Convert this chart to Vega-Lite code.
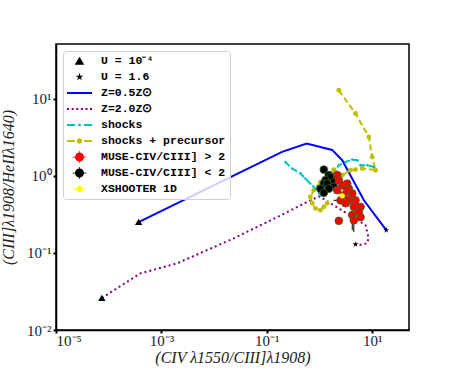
{
  "$schema": "https://vega.github.io/schema/vega-lite/v6.json",
  "width": 353,
  "height": 286,
  "autosize": {"type": "none"},
  "padding": {"left": 56, "top": 44, "right": 45, "bottom": 41},
  "datasets": {
    "lines": [
      {"series": "Z=0.5Z⊙", "i": 0, "x": 0.00037, "y": 0.25},
      {"series": "Z=0.5Z⊙", "i": 1, "x": 0.195, "y": 2.04},
      {"series": "Z=0.5Z⊙", "i": 2, "x": 0.57, "y": 2.61},
      {"series": "Z=0.5Z⊙", "i": 3, "x": 1.74, "y": 2.16},
      {"series": "Z=0.5Z⊙", "i": 4, "x": 2.7, "y": 1.59},
      {"series": "Z=0.5Z⊙", "i": 5, "x": 6.97, "y": 0.48},
      {"series": "Z=0.5Z⊙", "i": 6, "x": 18.5, "y": 0.197},
      {"series": "Z=2.0Z⊙", "i": 0, "x": 0.000074, "y": 0.026},
      {"series": "Z=2.0Z⊙", "i": 1, "x": 0.000395, "y": 0.054},
      {"series": "Z=2.0Z⊙", "i": 2, "x": 0.00197, "y": 0.073},
      {"series": "Z=2.0Z⊙", "i": 3, "x": 0.0235, "y": 0.154},
      {"series": "Z=2.0Z⊙", "i": 4, "x": 0.21, "y": 0.32},
      {"series": "Z=2.0Z⊙", "i": 5, "x": 0.67, "y": 0.48},
      {"series": "Z=2.0Z⊙", "i": 6, "x": 1.0, "y": 0.54},
      {"series": "Z=2.0Z⊙", "i": 7, "x": 7.5, "y": 0.229},
      {"series": "Z=2.0Z⊙", "i": 8, "x": 8.55, "y": 0.155},
      {"series": "Z=2.0Z⊙", "i": 9, "x": 8.03, "y": 0.133},
      {"series": "Z=2.0Z⊙", "i": 10, "x": 5.58, "y": 0.126},
      {"series": "Z=2.0Z⊙", "i": 11, "x": 4.83, "y": 0.129},
      {"series": "shocks", "i": 0, "x": 0.226, "y": 1.51},
      {"series": "shocks", "i": 1, "x": 0.303, "y": 1.24},
      {"series": "shocks", "i": 2, "x": 0.435, "y": 1.07},
      {"series": "shocks", "i": 3, "x": 0.54, "y": 0.92},
      {"series": "shocks", "i": 4, "x": 0.67, "y": 0.79},
      {"series": "shocks", "i": 5, "x": 0.84, "y": 0.68},
      {"series": "shocks", "i": 6, "x": 1.04, "y": 0.56},
      {"series": "shocks", "i": 7, "x": 1.7, "y": 1.0},
      {"series": "shocks", "i": 8, "x": 2.33, "y": 1.37},
      {"series": "shocks", "i": 9, "x": 3.12, "y": 1.51},
      {"series": "shocks", "i": 10, "x": 4.19, "y": 1.62},
      {"series": "shocks", "i": 11, "x": 5.21, "y": 1.59},
      {"series": "shocks", "i": 12, "x": 6.02, "y": 1.37},
      {"series": "shocks", "i": 13, "x": 8.07, "y": 1.37},
      {"series": "shocks", "i": 14, "x": 10.8, "y": 1.3},
      {"series": "shocks + precursor", "i": 0, "x": 2.33, "y": 12.8},
      {"series": "shocks + precursor", "i": 1, "x": 4.83, "y": 6.4},
      {"series": "shocks + precursor", "i": 2, "x": 8.65, "y": 3.18},
      {"series": "shocks + precursor", "i": 3, "x": 10.0, "y": 1.75},
      {"series": "shocks + precursor", "i": 4, "x": 11.6, "y": 1.18},
      {"series": "shocks + precursor", "i": 5, "x": 6.49, "y": 1.24},
      {"series": "shocks + precursor", "i": 6, "x": 4.83, "y": 1.2},
      {"series": "shocks + precursor", "i": 7, "x": 3.88, "y": 1.18},
      {"series": "shocks + precursor", "i": 8, "x": 2.7, "y": 1.02},
      {"series": "shocks + precursor", "i": 9, "x": 1.87, "y": 1.2},
      {"series": "shocks + precursor", "i": 10, "x": 1.4, "y": 1.02},
      {"series": "shocks + precursor", "i": 11, "x": 1.04, "y": 0.83},
      {"series": "shocks + precursor", "i": 12, "x": 0.78, "y": 0.65},
      {"series": "shocks + precursor", "i": 13, "x": 0.67, "y": 0.53},
      {"series": "shocks + precursor", "i": 14, "x": 0.73, "y": 0.44},
      {"series": "shocks + precursor", "i": 15, "x": 0.84, "y": 0.377},
      {"series": "shocks + precursor", "i": 16, "x": 1.04, "y": 0.358},
      {"series": "shocks + precursor", "i": 17, "x": 1.21, "y": 0.395},
      {"series": "shocks + precursor", "i": 18, "x": 1.4, "y": 0.44}
    ],
    "ends": [
      {"series": "U = 10⁻⁴", "x": 0.00037, "y": 0.25},
      {"series": "U = 10⁻⁴", "x": 0.000074, "y": 0.026},
      {"series": "U = 1.6", "x": 18.5, "y": 0.197},
      {"series": "U = 1.6", "x": 4.83, "y": 0.129}
    ],
    "obs": [
      {"series": "MUSE-CIV/CIII] < 2", "x": 1.21, "y": 1.2},
      {"series": "MUSE-CIV/CIII] < 2", "x": 1.5, "y": 1.02},
      {"series": "MUSE-CIV/CIII] < 2", "x": 1.62, "y": 0.957},
      {"series": "MUSE-CIV/CIII] < 2", "x": 1.3, "y": 0.875},
      {"series": "MUSE-CIV/CIII] < 2", "x": 1.87, "y": 0.83},
      {"series": "MUSE-CIV/CIII] < 2", "x": 1.21, "y": 0.79},
      {"series": "MUSE-CIV/CIII] < 2", "x": 1.4, "y": 0.79},
      {"series": "MUSE-CIV/CIII] < 2", "x": 1.87, "y": 0.72},
      {"series": "MUSE-CIV/CIII] < 2", "x": 1.04, "y": 0.68},
      {"series": "MUSE-CIV/CIII] < 2", "x": 1.5, "y": 0.68},
      {"series": "MUSE-CIV/CIII] < 2", "x": 1.21, "y": 0.6},
      {"series": "MUSE-CIV/CIII] > 2", "x": 2.17, "y": 1.02},
      {"series": "MUSE-CIV/CIII] > 2", "x": 2.33, "y": 0.875},
      {"series": "MUSE-CIV/CIII] > 2", "x": 2.7, "y": 0.75},
      {"series": "MUSE-CIV/CIII] > 2", "x": 3.36, "y": 0.79},
      {"series": "MUSE-CIV/CIII] > 2", "x": 3.61, "y": 0.68},
      {"series": "MUSE-CIV/CIII] > 2", "x": 3.36, "y": 0.65},
      {"series": "MUSE-CIV/CIII] > 2", "x": 2.17, "y": 0.65},
      {"series": "MUSE-CIV/CIII] > 2", "x": 2.9, "y": 0.56},
      {"series": "MUSE-CIV/CIII] > 2", "x": 4.19, "y": 0.59},
      {"series": "MUSE-CIV/CIII] > 2", "x": 3.61, "y": 0.48, "ylo": 0.4, "yhi": 0.56},
      {"series": "MUSE-CIV/CIII] > 2", "x": 4.83, "y": 0.48},
      {"series": "MUSE-CIV/CIII] > 2", "x": 2.51, "y": 0.48, "xlo": 1.85, "xhi": 3.1},
      {"series": "MUSE-CIV/CIII] > 2", "x": 3.12, "y": 0.44},
      {"series": "MUSE-CIV/CIII] > 2", "x": 4.49, "y": 0.395},
      {"series": "MUSE-CIV/CIII] > 2", "x": 6.01, "y": 0.395, "xlo": 5.0, "xhi": 7.2},
      {"series": "MUSE-CIV/CIII] > 2", "x": 5.58, "y": 0.34},
      {"series": "MUSE-CIV/CIII] > 2", "x": 4.19, "y": 0.31, "ylo": 0.197, "yhi": 0.35},
      {"series": "MUSE-CIV/CIII] > 2", "x": 6.01, "y": 0.29},
      {"series": "MUSE-CIV/CIII] > 2", "x": 2.33, "y": 0.26},
      {"series": "MUSE-CIV/CIII] > 2", "x": 4.49, "y": 0.265, "ylo": 0.186, "yhi": 0.3},
      {"series": "XSHOOTER 1D", "x": 2.7, "y": 0.548}
    ]
  },
  "layer": [
    {
      "data": {"name": "lines"},
      "transform": [{"filter": "datum.series === 'Z=0.5Z⊙'"}],
      "mark": {"type": "line", "strokeWidth": 2, "color": "#0000ff"},
      "encoding": {
        "x": {
          "field": "x", "type": "quantitative",
          "scale": {"type": "log", "domain": [0.00001, 50], "nice": false},
          "axis": {
            "values": [0.00001, 0.001, 0.1, 10],
            "labelExpr": "['10⁻⁵','','10⁻³','','10⁻¹','','10¹'][round(log(datum.value)/LN10)+5]",
            "title": "(CIV λ1550/CIII]λ1908)",
            "titlePadding": 1,
            "labelPadding": 0
          }
        },
        "y": {
          "field": "y", "type": "quantitative",
          "scale": {"type": "log", "domain": [0.01, 51], "nice": false},
          "axis": {
            "values": [0.01, 0.1, 1, 10],
            "labelExpr": "['10⁻²','10⁻¹','10⁰','10¹'][round(log(datum.value)/LN10)+2]",
            "title": "(CIII]λ1908/HeIIλ1640)",
            "titlePadding": 10,
            "labelPadding": 2
          }
        },
        "order": {"field": "i", "type": "quantitative"}
      }
    },
    {
      "data": {"name": "lines"},
      "transform": [{"filter": "datum.series === 'Z=2.0Z⊙'"}],
      "mark": {"type": "line", "strokeWidth": 2, "color": "#800080", "strokeDash": [2, 3]},
      "encoding": {
        "x": {"field": "x", "type": "quantitative"},
        "y": {"field": "y", "type": "quantitative"},
        "order": {"field": "i", "type": "quantitative"}
      }
    },
    {
      "data": {"name": "lines"},
      "transform": [{"filter": "datum.series === 'shocks'"}],
      "mark": {"type": "line", "strokeWidth": 2, "color": "#00bfbf", "strokeDash": [6, 3]},
      "encoding": {
        "x": {"field": "x", "type": "quantitative"},
        "y": {"field": "y", "type": "quantitative"},
        "order": {"field": "i", "type": "quantitative"}
      }
    },
    {
      "data": {"name": "lines"},
      "transform": [{"filter": "datum.series === 'shocks + precursor'"}],
      "mark": {"type": "line", "strokeWidth": 2, "color": "#bfbf00", "strokeDash": [6, 3]},
      "encoding": {
        "x": {"field": "x", "type": "quantitative"},
        "y": {"field": "y", "type": "quantitative"},
        "order": {"field": "i", "type": "quantitative"}
      }
    },
    {
      "data": {"name": "lines"},
      "transform": [{"filter": "datum.series === 'shocks + precursor'"}],
      "mark": {"type": "point", "filled": true, "size": 24, "opacity": 1, "color": "#bfbf00"},
      "encoding": {
        "x": {"field": "x", "type": "quantitative"},
        "y": {"field": "y", "type": "quantitative"}
      }
    },
    {
      "data": {"name": "lines"},
      "transform": [{"filter": "datum.series === 'shocks'"}],
      "mark": {"type": "point", "filled": true, "size": 6, "opacity": 1, "color": "#00bfbf"},
      "encoding": {
        "x": {"field": "x", "type": "quantitative"},
        "y": {"field": "y", "type": "quantitative"}
      }
    },
    {
      "data": {"name": "obs"},
      "transform": [{"filter": "isValid(datum.xlo)"}],
      "mark": {"type": "rule", "color": "black", "strokeWidth": 1},
      "encoding": {
        "x": {"field": "xlo", "type": "quantitative"},
        "x2": {"field": "xhi"},
        "y": {"field": "y", "type": "quantitative"}
      }
    },
    {
      "data": {"name": "obs"},
      "transform": [{"filter": "isValid(datum.ylo)"}],
      "mark": {"type": "rule", "color": "black", "strokeWidth": 1},
      "encoding": {
        "x": {"field": "x", "type": "quantitative"},
        "y": {"field": "ylo", "type": "quantitative"},
        "y2": {"field": "yhi"}
      }
    },
    {
      "data": {"name": "obs"},
      "transform": [{"filter": "datum.series === 'MUSE-CIV/CIII] < 2'"}],
      "mark": {"type": "point", "filled": true, "opacity": 1, "size": 60, "color": "black", "stroke": "#2e6b2e", "strokeWidth": 0.8},
      "encoding": {
        "x": {"field": "x", "type": "quantitative"},
        "y": {"field": "y", "type": "quantitative"}
      }
    },
    {
      "data": {"name": "obs"},
      "transform": [{"filter": "datum.series === 'MUSE-CIV/CIII] > 2'"}],
      "mark": {"type": "point", "filled": true, "opacity": 1, "size": 60, "color": "#ff0000", "stroke": "#2e6b2e", "strokeWidth": 0.8},
      "encoding": {
        "x": {"field": "x", "type": "quantitative"},
        "y": {"field": "y", "type": "quantitative"}
      }
    },
    {
      "data": {"name": "obs"},
      "transform": [{"filter": "datum.series === 'XSHOOTER 1D'"}],
      "mark": {"type": "point", "filled": true, "opacity": 1, "size": 28, "color": "#ffff00"},
      "encoding": {
        "x": {"field": "x", "type": "quantitative"},
        "y": {"field": "y", "type": "quantitative"}
      }
    },
    {
      "data": {"name": "ends"},
      "mark": {"type": "point", "filled": true, "opacity": 1, "size": 377},
      "encoding": {
        "x": {"field": "x", "type": "quantitative"},
        "y": {"field": "y", "type": "quantitative"},
        "color": {
          "field": "series", "type": "nominal",
          "scale": {
            "domain": ["U = 10⁻⁴", "U = 1.6", "Z=0.5Z⊙", "Z=2.0Z⊙", "shocks", "shocks + precursor", "MUSE-CIV/CIII] > 2", "MUSE-CIV/CIII] < 2", "XSHOOTER 1D"],
            "range": ["black", "black", "#0000ff", "#800080", "#00bfbf", "#bfbf00", "#ff0000", "black", "#ffff00"]
          },
          "legend": {
            "orient": "top-left", "offset": 7, "title": null, "padding": 4, "rowPadding": 4,
            "symbolSize": 625, "clipHeight": 12, "symbolOffset": 0, "labelOffset": 9,
            "symbolStrokeWidth": 0, "symbolOpacity": 1,
            "labelFont": "Liberation Mono", "labelFontWeight": "bold", "labelFontSize": 11.5, "labelColor": "black",
            "strokeColor": "#d0d0d0", "fillColor": "rgba(255,255,255,0.8)", "cornerRadius": 3
          }
        },
        "shape": {
          "field": "series", "type": "nominal",
          "scale": {
            "domain": ["U = 10⁻⁴", "U = 1.6", "Z=0.5Z⊙", "Z=2.0Z⊙", "shocks", "shocks + precursor", "MUSE-CIV/CIII] > 2", "MUSE-CIV/CIII] < 2", "XSHOOTER 1D"],
            "range": [
              "M0,-0.34L0.38,0.3L-0.38,0.3Z",
              "M0,-0.32L0.072,-0.099L0.304,-0.099L0.116,0.038L0.188,0.259L0,0.122L-0.188,0.259L-0.116,0.038L-0.304,-0.099L-0.072,-0.099Z",
              "M-1,-0.08H1V0.08H-1Z",
              "M-1,-0.08h0.16v0.16h-0.16ZM-0.63,-0.08h0.16v0.16h-0.16ZM-0.26,-0.08h0.16v0.16h-0.16ZM0.11,-0.08h0.16v0.16h-0.16ZM0.48,-0.08h0.16v0.16h-0.16ZM0.84,-0.08h0.16v0.16h-0.16Z",
              "M-1,-0.08H-0.36V0.08H-1ZM0.36,-0.08H1V0.08H0.36ZM-0.1,-0.1H0.1V0.1H-0.1Z",
              "M-1,-0.08H-0.36V0.08H-1ZM0.36,-0.08H1V0.08H0.36ZM0.22,0A0.22,0.22,0,1,1,-0.22,0A0.22,0.22,0,1,1,0.22,0Z",
              "M0.36,0A0.36,0.36,0,1,1,-0.36,0A0.36,0.36,0,1,1,0.36,0ZM-0.56,-0.03H-0.36V0.03H-0.56ZM0.36,-0.03H0.56V0.03H0.36ZM-0.03,-0.56H0.03V-0.36H-0.03ZM-0.03,0.36H0.03V0.56H-0.03Z",
              "M0.36,0A0.36,0.36,0,1,1,-0.36,0A0.36,0.36,0,1,1,0.36,0ZM-0.56,-0.03H-0.36V0.03H-0.56ZM0.36,-0.03H0.56V0.03H0.36ZM-0.03,-0.56H0.03V-0.36H-0.03ZM-0.03,0.36H0.03V0.56H-0.03Z",
              "M0,-0.3L0.285,-0.093L0.176,0.243L-0.176,0.243L-0.285,-0.093ZM-0.56,-0.03H-0.28V0.03H-0.56ZM0.28,-0.03H0.56V0.03H0.28Z"
            ]
          },
          "legend": {
            "orient": "top-left", "offset": 7, "title": null, "padding": 4, "rowPadding": 4,
            "symbolSize": 625, "clipHeight": 12, "symbolOffset": 0, "labelOffset": 9,
            "symbolStrokeWidth": 0, "symbolOpacity": 1,
            "labelFont": "Liberation Mono", "labelFontWeight": "bold", "labelFontSize": 11.5, "labelColor": "black",
            "strokeColor": "#d0d0d0", "fillColor": "rgba(255,255,255,0.8)", "cornerRadius": 3
          }
        }
      }
    }
  ],
  "config": {
    "view": {"stroke": "black", "strokeWidth": 1.5},
    "axis": {
      "grid": false,
      "domainColor": "black",
      "domainWidth": 1.5,
      "tickColor": "black",
      "tickSize": 3,
      "tickWidth": 2,
      "labelFont": "Liberation Serif",
      "labelFontSize": 15,
      "labelColor": "#222",
      "titleFont": "Liberation Serif",
      "titleFontSize": 16,
      "titleFontWeight": "normal",
      "titleFontStyle": "italic",
      "titleColor": "#222"
    }
  }
}
